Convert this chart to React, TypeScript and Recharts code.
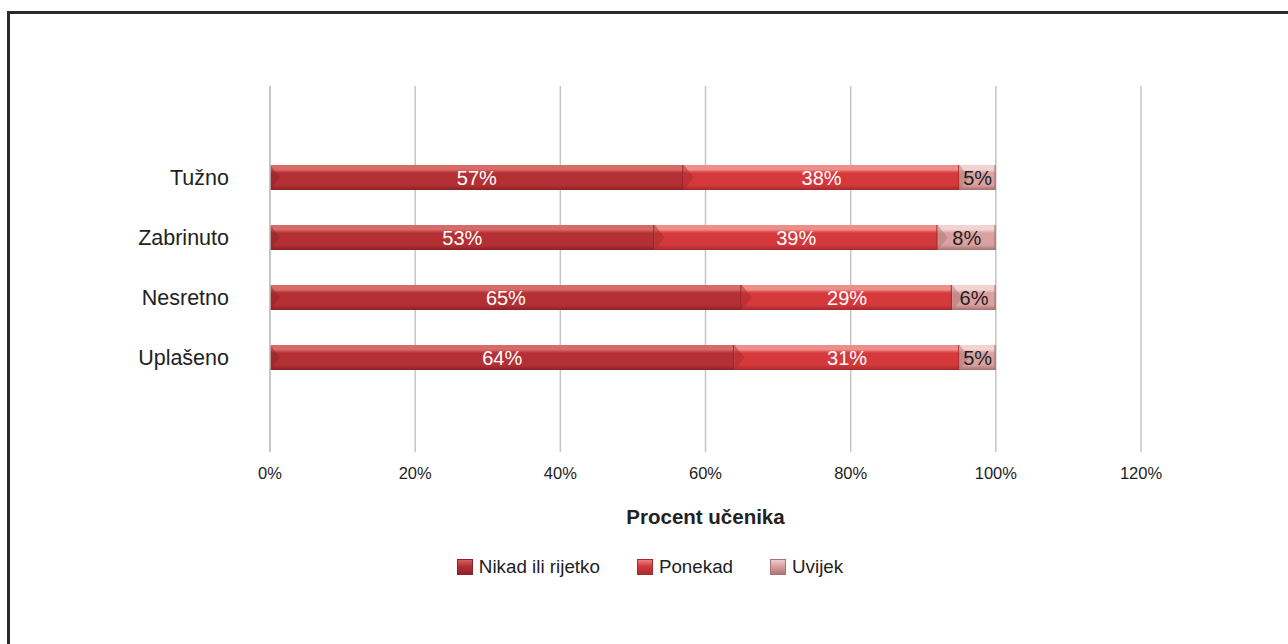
import React from 'react';
import {
  BarChart,
  Bar,
  XAxis,
  YAxis,
  CartesianGrid,
  Legend,
  LabelList,
} from 'recharts';

const categories = ['Tužno', 'Zabrinuto', 'Nesretno', 'Uplašeno'];
const nikad = [57, 53, 65, 64];
const ponekad = [38, 39, 29, 31];
const uvijek = [5, 8, 6, 5];
const xTicks = [0, 20, 40, 60, 80, 100, 120];

const seriesNames = ['Nikad ili rijetko', 'Ponekad', 'Uvijek'];

// top / base / bottom shades for the bevelled bars
const palette = [
  { top: '#d86a68', base: '#b53034', bottom: '#8a2227' },
  { top: '#ef8d88', base: '#d6393c', bottom: '#a5292d' },
  { top: '#f3d3d1', base: '#d9a2a1', bottom: '#a87171' },
];

const data = categories.map((name, i) => ({
  name,
  nikad: nikad[i],
  ponekad: ponekad[i],
  uvijek: uvijek[i],
}));

const FONT = '"Liberation Sans", Arial, Helvetica, sans-serif';

const bevelShape = (idx: number) => (props: any) => {
  const { x, y, width, height } = props;
  if (!width || !height) return null;
  const c = palette[idx];
  const b = Math.min(10, width / 3);
  return (
    <g>
      <rect x={x} y={y} width={width} height={height} fill={`url(#bevel-${idx})`} />
      <polygon
        points={`${x},${y} ${x + b},${y + height / 2} ${x},${y + height}`}
        fill={c.bottom}
        opacity={0.45}
      />
      <polygon
        points={`${x},${y} ${x + width},${y} ${x + width},${y + 3} ${x + b * 0.4},${y + 3}`}
        fill={c.top}
        opacity={0.6}
      />
      <rect x={x + width - 1.5} y={y} width={1.5} height={height} fill={c.bottom} opacity={0.8} />
    </g>
  );
};

const LegendContent = (props: any) => {
  const { payload } = props;
  return (
    <div
      style={{
        height: 80,
        display: 'flex',
        alignItems: 'center',
        justifyContent: 'center',
        paddingLeft: 12,
        fontFamily: FONT,
        fontSize: 18.8,
        color: '#222',
      }}
    >
      {(payload || []).map((p: any, i: number) => {
        const c = palette[i];
        return (
          <div key={i} style={{ display: 'flex', alignItems: 'center', marginRight: i < 2 ? 37 : 0 }}>
            <span
              style={{
                display: 'inline-block',
                width: 16,
                height: 16,
                marginRight: 6,
                background: `linear-gradient(to bottom, ${c.top} 0%, ${c.base} 45%, ${c.bottom} 100%)`,
                boxShadow: `inset 0 0 0 1px ${c.bottom}`,
              }}
            />
            <span>{p.value}</span>
          </div>
        );
      })}
    </div>
  );
};

const pct = (v: any) => `${v}%`;

export default function App() {
  return (
    <div
      style={{
        position: 'absolute',
        left: 0,
        top: 0,
        width: 1288,
        height: 644,
        overflow: 'hidden',
        background: '#fff',
      }}
    >
      <div
        style={{
          position: 'absolute',
          left: 7,
          top: 11,
          width: 1290,
          height: 640,
          borderTop: '3px solid #2b2b2b',
          borderLeft: '3px solid #2b2b2b',
          boxSizing: 'border-box',
        }}
      />
      <div style={{ position: 'absolute', left: 0, top: 0 }}>
        <BarChart
          width={1288}
          height={644}
          data={data}
          layout="vertical"
          margin={{ top: 86, right: 147, left: 0, bottom: 37 }}
          style={{ fontFamily: FONT }}
        >
          <defs>
            {palette.map((c, i) => (
              <linearGradient key={i} id={`bevel-${i}`} x1="0" y1="0" x2="0" y2="1">
                <stop offset="0%" stopColor={c.top} />
                <stop offset="18%" stopColor={c.top} />
                <stop offset="32%" stopColor={c.base} />
                <stop offset="80%" stopColor={c.base} />
                <stop offset="100%" stopColor={c.bottom} />
              </linearGradient>
            ))}
          </defs>
          <CartesianGrid horizontal={false} stroke="#c4c4c4" strokeWidth={1.5} />
          <XAxis
            type="number"
            domain={[0, 120]}
            ticks={xTicks}
            tickFormatter={pct}
            axisLine={false}
            tickLine={false}
            tickSize={0}
            tickMargin={15}
            height={75}
            tick={{ fontSize: 16.5, fill: '#222' }}
            label={{
              value: 'Procent učenika',
              position: 'insideBottom',
              offset: 3,
              style: { fontSize: 20.5, fontWeight: 'bold', fill: '#222' },
            }}
          />
          <YAxis
            type="category"
            dataKey="name"
            width={270}
            padding={{ top: 61, bottom: 65 }}
            axisLine={{ stroke: '#c4c4c4', strokeWidth: 1.5 }}
            tickLine={false}
            tickSize={0}
            tickMargin={41}
            tick={{ fontSize: 21.5, fill: '#222' }}
          />
          <Legend verticalAlign="bottom" wrapperStyle={{ left: 0, width: 1288 }} content={<LegendContent />} />
          <Bar dataKey="nikad" name={seriesNames[0]} stackId="a" barSize={25} fill={palette[0].base} shape={bevelShape(0)} isAnimationActive={false}>
            <LabelList dataKey="nikad" position="center" formatter={pct} fill="#fff" style={{ fontSize: 20, fill: '#fff' }} />
          </Bar>
          <Bar dataKey="ponekad" name={seriesNames[1]} stackId="a" barSize={25} fill={palette[1].base} shape={bevelShape(1)} isAnimationActive={false}>
            <LabelList dataKey="ponekad" position="center" formatter={pct} fill="#fff" style={{ fontSize: 20, fill: '#fff' }} />
          </Bar>
          <Bar dataKey="uvijek" name={seriesNames[2]} stackId="a" barSize={25} fill={palette[2].base} shape={bevelShape(2)} isAnimationActive={false}>
            <LabelList dataKey="uvijek" position="center" formatter={pct} fill="#222" style={{ fontSize: 20, fill: '#222' }} />
          </Bar>
        </BarChart>
      </div>
    </div>
  );
}
